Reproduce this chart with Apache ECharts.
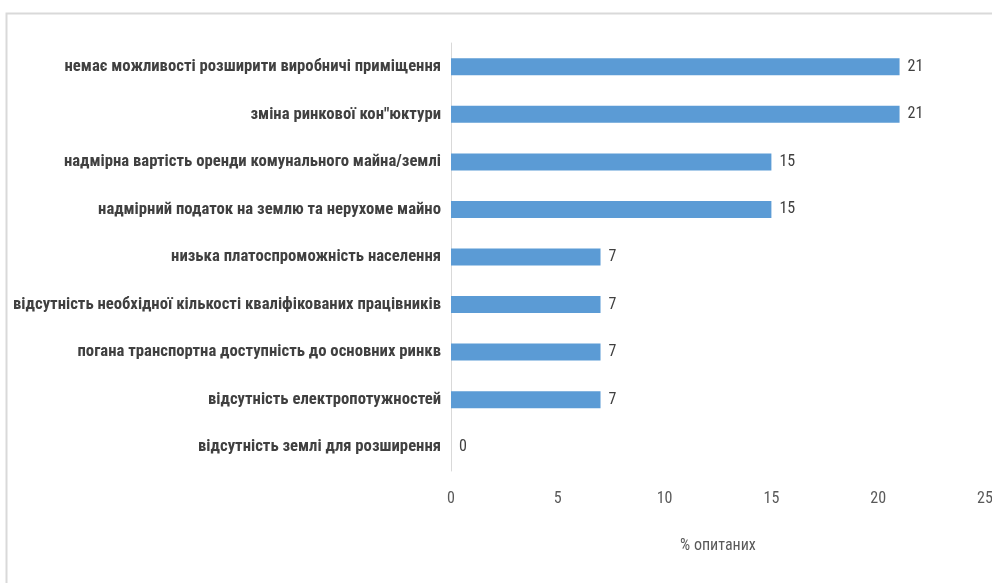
<!DOCTYPE html>
<html>
<head>
<meta charset="utf-8">
<script src="https://cdn.jsdelivr.net/npm/echarts@6/dist/echarts.min.js"></script>
<style>html,body{margin:0;padding:0;background:#fff}#c{width:992px;height:583px}</style>
</head>
<body>
<div id="c"></div>
<script>
const categories = [
  "немає можливості розширити виробничі приміщення",
  "зміна ринкової кон\"юктури",
  "надмірна вартість оренди комунального майна/землі",
  "надмірний податок на землю та нерухоме майно",
  "низька платоспроможність населення",
  "відсутність необхідної кількості кваліфікованих працівників",
  "погана транспортна доступність до основних ринкв",
  "відсутність електропотужностей",
  "відсутність землі для розширення"
];
const values = [21, 21, 15, 15, 7, 7, 7, 7, 0];
const axisTitle = "% опитаних";

const FONT = "'Roboto Condensed', 'Liberation Sans Narrow', sans-serif";
const chart = echarts.init(document.getElementById('c'), null, {renderer: 'canvas'});
chart.setOption({
  animation: false,
  backgroundColor: '#fff',
  graphic: [{
    type: 'rect', shape: {x: 6.5, y: 13.5, width: 1100, height: 700},
    style: {fill: 'none', stroke: '#d9d9d9', lineWidth: 2}, silent: true
  }],
  grid: {left: 451, right: 7, top: 43, bottom: 112, containLabel: false, outerBoundsMode: 'none'},
  xAxis: {
    type: 'value', min: 0, max: 25, interval: 5,
    axisLine: {show: false}, axisTick: {show: false}, splitLine: {show: false},
    axisLabel: {color: '#595959', fontSize: 16, margin: 20, fontFamily: FONT},
    name: axisTitle, nameLocation: 'middle', nameGap: 67,
    nameTextStyle: {color: '#595959', fontSize: 16, fontFamily: FONT}
  },
  yAxis: {
    type: 'category', data: categories, inverse: true,
    axisLine: {show: true, lineStyle: {color: '#d9d9d9', width: 1}},
    axisTick: {show: false},
    axisLabel: {color: '#404040', fontSize: 16.7, fontWeight: 'bold', margin: 10, fontFamily: FONT}
  },
  series: [{
    type: 'bar', data: values, barWidth: 17,
    itemStyle: {color: '#5b9bd5'},
    label: {show: true, position: 'right', distance: 8, color: '#404040', fontSize: 16, fontFamily: FONT}
  }]
});
</script>
</body>
</html>
